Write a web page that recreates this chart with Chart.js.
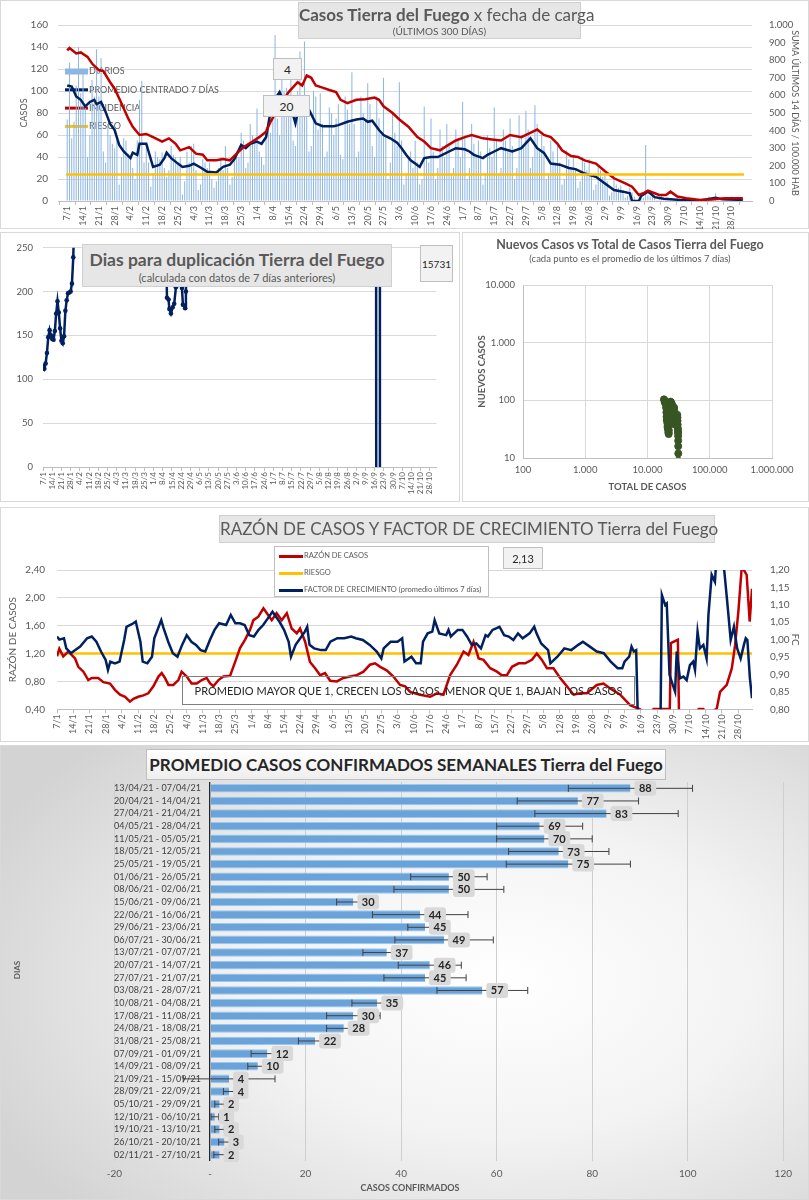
<!DOCTYPE html>
<html lang="es">
<head>
<meta charset="utf-8">
<title>Tierra del Fuego</title>
<script src="https://cdn.jsdelivr.net/npm/chart.js@4.4.1/dist/chart.umd.min.js"></script>
<style>
  body { margin: 0; width: 809px; height: 1200px; position: relative; overflow: hidden; background: #fff; font-family: Lato, 'Open Sans', sans-serif; color: #595959; }
  .panel { position: absolute; background: #fff; box-shadow: inset 0 0 0 1px #d9d9d9; }
  .panel canvas { position: absolute; left: 0; top: 0; }
  .box { position: absolute; box-sizing: border-box; text-align: center; white-space: nowrap; }
  .gray { background: #e7e6e6; border: 1px solid #cfcfcf; }
  .tag { background: #f2f2f2; border: 1px solid #bfbfbf; color: #262626; display: flex; align-items: center; justify-content: center; }
  .leg { position: absolute; left: 4px; font-size: 7.5px; line-height: 9px; color: #595959; }
  .leg i { display: inline-block; width: 24px; height: 3px; vertical-align: middle; margin-right: 1px; }
</style>
</head>
<body>

<div class="panel" style="left:0;top:0;width:809px;height:229px">
  <canvas id="casos" width="809" height="229"></canvas>
  <div class="box gray" style="left:298px;top:2px;width:283px;height:37px">
    <div style="font-size:17px;line-height:21px;margin-top:1px"><b>Casos Tierra del Fuego</b> x fecha de carga</div>
    <div style="font-size:10px;line-height:12px">(ÚLTIMOS 300 DÍAS)</div>
  </div>
  <div class="box tag" style="left:273px;top:58px;width:29px;height:22px;font-size:12px">4</div>
  <div class="box tag" style="left:263px;top:95px;width:47px;height:22px;font-size:12px">20</div>
</div>

<div class="panel" style="left:0;top:232px;width:460px;height:270px">
  <canvas id="duplicacion" width="460" height="270"></canvas>
  <div class="box gray" style="left:82px;top:12px;width:310px;height:43px">
    <div style="font-size:17.5px;font-weight:bold;line-height:23px;margin-top:3px">Dias para duplicación Tierra del Fuego</div>
    <div style="font-size:11px;line-height:14px">(calculada con datos de 7 días anteriores)</div>
  </div>
  <div class="box tag" style="left:420px;top:13px;width:33px;height:37px;font-size:10px">15731</div>
</div>

<div class="panel" style="left:462px;top:232px;width:347px;height:270px">
  <canvas id="nuevos" width="347" height="270"></canvas>
  <div class="box" style="left:0;top:5px;width:336px;font-size:12.5px;font-weight:bold;line-height:16px">Nuevos Casos vs Total de Casos Tierra del Fuego</div>
  <div class="box" style="left:0;top:21px;width:336px;font-size:9.5px;line-height:12px">(cada punto es el promedio de los últimos 7 días)</div>
</div>

<div class="panel" style="left:0;top:507px;width:809px;height:235px">
  <canvas id="razon" width="809" height="235"></canvas>
  <div class="box gray" style="left:219px;top:8px;width:496px;height:28px;font-size:17px;line-height:26px">RAZÓN DE CASOS Y FACTOR DE CRECIMIENTO Tierra del Fuego</div>
  <div class="box" style="left:274px;top:39px;width:215px;height:51px;background:#fff;border:1px solid #bfbfbf;text-align:left">
    <div class="leg" style="top:4px"><i style="background:#C00000"></i>RAZÓN DE CASOS</div>
    <div class="leg" style="top:21px"><i style="background:#FFC000"></i>RIESGO</div>
    <div class="leg" style="top:38px"><i style="background:#002060"></i>FACTOR DE CRECIMIENTO (promedio últimos 7 días)</div>
  </div>
  <div class="box tag" style="left:503px;top:40px;width:40px;height:22px;font-size:11px">2,13</div>
  <div class="box" style="left:182px;top:169px;width:453px;height:29px;border:1px solid #7f7f7f;font-size:11px;line-height:27px;color:#262626">PROMEDIO MAYOR QUE 1, CRECEN LOS CASOS, MENOR QUE 1, BAJAN LOS CASOS</div>
</div>

<div class="panel" style="left:0;top:745px;width:809px;height:455px;background:radial-gradient(ellipse 70% 75% at 62% 52%, #ffffff 0%, #f3f3f3 45%, #d3d3d3 100%)">
  <canvas id="semanal" width="809" height="455"></canvas>
  <div class="box" style="left:146px;top:4px;width:520px;height:31px;border:1px solid #bfbfbf;background:linear-gradient(#ffffff,#eeeeee);font-size:17px;font-weight:bold;line-height:29px;color:#262626">PROMEDIO CASOS CONFIRMADOS SEMANALES Tierra del Fuego</div>
  <div class="box" style="left:-3px;top:220px;width:40px;height:10px;font-size:8px;font-weight:bold;line-height:10px;transform:rotate(-90deg)">DIAS</div>
  <div class="box" style="left:310px;top:437px;width:200px;height:12px;font-size:9px;font-weight:bold;line-height:12px">CASOS CONFIRMADOS</div>
</div>

<script>
// ---- data ----
const tickLabels = ['7/1','14/1','21/1','28/1','4/2','11/2','18/2','25/2','4/3','11/3','18/3','25/3','1/4','8/4','15/4','22/4','29/4','6/5','13/5','20/5','27/5','3/6','10/6','17/6','24/6','1/7','8/7','15/7','22/7','29/7','5/8','12/8','19/8','26/8','2/9','9/9','16/9','23/9','30/9','7/10','14/10','21/10','28/10'];

// daily cases, day 0 = 7/1
const dailyCases = [
  74,126,57,72,105,140,98, 120,85,40,60,110,95,138, 95,130,45,35,70,60,52, 48,55,15,40,57,55,43,
  40,30,20,55,92,109,35, 48,35,13,25,45,40,38, 44,30,22,28,50,42,40, 35,40,6,18,45,35,50,
  52,28,10,15,38,35,30, 35,20,12,18,30,40,28, 50,30,15,22,38,45,40, 62,55,30,35,70,60,52,
  84,45,40,33,67,75,62, 80,151,75,60,125,100,103, 80,110,55,50,100,136,88, 145,90,45,50,100,95,65,
  98,70,40,45,85,80,60, 75,88,42,38,95,83,70, 117,70,40,45,95,80,73, 107,88,50,40,95,75,60,
  112,60,20,35,80,62,50, 108,55,15,25,40,45,30, 55,35,15,20,86,40,35, 75,45,20,30,65,50,40,
  70,50,25,30,65,55,40, 90,60,20,30,70,52,40, 55,45,15,25,60,48,40, 85,55,25,30,65,55,45,
  75,50,20,30,78,60,50, 82,65,30,40,87,70,48, 60,50,20,25,55,45,35, 51,35,15,20,46,38,30,
  42,30,12,18,40,35,28, 38,25,10,15,32,28,22, 25,18,5,8,20,15,12, 14,10,3,5,12,8,4,
  0,0,2,3,51,5,4, 6,4,1,2,5,3,2, 3,2,0,1,3,2,1, 2,1,0,1,3,2,1,
  2,1,0,1,4,3,2, 7,2,1,0,3,2,2, 4,2,1,1,3,2
];

const avgDays = [0,2,4,6,8,10,12,13,15,17,19,21,23,25,28,29,31,32,35,36,38,41,43,44,46,49,51,54,56,59,62,66,69,72,74,77,79,81,84,86,88,90,92,94,96,98,100,101,102,104,106,107,110,113,118,120,124,128,131,133,135,138,140,143,146,148,150,152,154,156,158,161,164,166,169,172,176,178,180,184,186,189,192,197,201,205,208,211,214,218,222,225,229,234,238,242,246,249,250,253,254,257,258,260,264,271,280,287,290,299];
const avgValues = [105,104,95,92,86,90,92,88,90,81,70,64.5,51,45,39,44,42,52,52,45,31,33,39,44,39,34,31,32,34,30.5,26.6,26,31,33,38,51,48,52,54,52,58,81,93,99,90,86,78,70.6,80,89,86,83,70.6,68,68,69,72,74,75,72,73,64.5,60,57,53,48,42,37,34,31,39,40,40,42,45,48,47,45,42,39,42,45,48,45,48,57,48,43.7,34,33,30,29,25,22,16,10,8.5,7,0,0,4.5,8.5,7,3.5,2,1,0.5,3,1.5,1];

const incDays = [0,1,4,6,9,11,14,16,19,21,24,27,29,32,35,38,42,45,48,50,54,57,60,62,66,69,72,75,78,82,85,88,90,93,98,102,104,106,108,110,113,116,119,121,124,128,132,136,138,140,144,147,151,155,158,161,165,168,172,176,179,184,188,192,196,201,204,208,211,214,217,219,223,226,229,234,238,242,247,250,253,255,257,260,262,265,267,270,274,280,285,291,299];
const incValues = [856,869,838,844,819,781,744,738,675,638,556,469,422,375,381,363,338,356,325,288,306,269,263,231,231,238,231,269,306,338,363,394,450,519,619,675,656,713,700,656,644,631,619,575,556,575,578,588,575,538,500,463,422,363,338,300,288,313,344,363,375,356,350,344,375,363,381,406,375,363,325,288,256,250,231,213,169,129,100,81,34,44,59,44,34,34,53,25,16,6,9,16,16];
const riesgoIncidencia = 150;

const dupDays = [0,1,2,3,4,5,6,7,8,9,10,11,12,13,14,15,16,17,18,19,20,21,22,23,24,93,94.2,95.4,96,97.2,98.5,99.7,101,102,104.6,105.6,106.3,108,108.6,109.6,253,253.4,255.6,256];
const dupValues = [115,112,118,130,148,156,150,146,145,155,175,189,176,158,144,141,149,178,190,198,199,200,209,239,300,300,193,191,180,175,182,186,205,300,300,204,185,181,200,300,600,-600,-600,15731];

const scatterTotal = [18400,18700,19000,19300,19600,19850,20100,20250,20400,20600,20750,20900,21000,21100,21250,21400,21500,21600,21700,21800,21900,22000,22150,22300,22500,22700,22900,23200,23500,23800,24100,24400,24700,24950,25200,25450,25700,25950,26200,26450,26700,26900,27100,27250,27400,27550,27700,27850,28000,28150,28350,28550,28700,28850,29000,29200,29350,29500,29700,29900,30100,30250,30400,30550,30650,30750,30850,30950,31050,31100,31150,31200,31230,31260,31300,31320,31340,31360,31380];
const scatterNew = [104,100,92,90,88,75,62,52,45,47,50,40,34,36,37,33,32,30,28,27,26,30,36,45,52,55,57,75,95,92,88,87,85,78,69,68,70,72,73,74,75,66,58,50,45,40,38,42,46,47,48,49,50,44,40,46,50,49,47,52,56,50,44,38,33,31,29,27,24,20,16,12,9,4,5,2,2,3,2];
const totalTicks = [100,1000,10000,100000,1000000];
const newTicks = [10,100,1000,10000];

const razonDays = [0,1,2.7,4.9,6.3,7.8,9.2,11.4,13.5,15,17.8,20,22.9,25,27.2,29.4,31.5,33,35.1,37.3,39.4,41.6,43.8,45.2,46.6,48.1,50.2,52.4,53.8,56,58.1,60.3,62.5,64.6,66.1,67.5,69.7,71.8,74.7,76.9,79,81.2,83.3,84.8,86.9,89.1,91.2,92.7,94.8,97,99.2,101.3,103.5,104.9,107.1,109.2,111.4,113.6,115.7,117.9,120.8,123.6,126.5,129.4,132.3,135.1,137.3,139.5,142.3,145.2,148.1,150.3,152.4,156.7,161.1,164,166.8,169.7,172.6,175.5,177.6,179.8,182,184.1,187,189.9,192,194.2,196.4,199.3,202.1,205,207.1,209.3,211.5,214.3,217.2,220.1,223,225.8,228.7,233,235.9,238.8,243.1,247.4,251.7,253,256,257.5,263.5,264.5,265,268,268.5,276,277,279,280,284.8,286.2,289.1,291.3,292.7,294.1,295.6,297.7,299,300];
const razonValues = [1.16,1.27,1.16,1.23,1.18,1.13,1.01,0.94,0.82,0.85,0.85,0.79,0.77,0.68,0.61,0.58,0.51,0.55,0.58,0.60,0.63,0.73,0.87,0.92,0.85,0.75,0.75,0.82,0.94,0.87,0.77,0.77,0.82,0.85,0.77,0.73,0.82,0.87,0.88,1.08,1.28,1.40,1.54,1.68,1.73,1.85,1.75,1.68,1.78,1.68,1.78,1.56,1.49,1.56,1.37,1.08,0.99,0.89,0.92,0.81,0.80,0.85,0.87,0.89,0.94,1.04,1.06,1.01,0.96,0.87,0.75,0.73,0.65,0.61,0.58,0.63,0.61,0.89,1.04,1.23,1.18,1.37,1.13,1.11,0.99,0.94,0.89,0.89,1.01,1.06,1.06,1.11,1.20,1.11,0.99,0.99,0.85,0.73,0.61,0.63,0.63,0.75,0.77,0.70,0.61,0.46,0.40,0.36,0.30,0.405,0.405,0.40,1.35,1.40,0.30,0.30,0.405,0.405,0.30,0.41,0.65,0.75,0.99,1.32,1.80,2.45,2.33,1.66,2.13];
const fcDays = [0,1,3,4,6,7,10,13,15,17,19,21,22,23,25,27,29,30,33,34,36,37,39,41,42,45,46,48,50,52,54,56,58,60,62,64,66,68,70,73,75,77,79,81,83,85,87,89,91,93,96,98,100,101,103,105,107,108,109,111,114,116,118,121,124,127,129,132,135,138,140,141,144,147,149,150,153,155,157,158,160,162,163,165,168,169,170,173,175,177,179,181,183,185,186,188,191,193,195,197,199,201,204,206,207,209,212,213,216,219,222,225,227,230,233,236,239,242,244,245,247,248,249,250,251,260.4,261.1,262.5,263.2,264.4,265.8,266.8,267.5,268.9,270.4,271.8,273.2,274.6,275.4,276.5,277.5,279,280.4,281.2,282.6,284,284.8,287,288,289.3,290.8,292.2,293.6,295.1,296.5,297.3,298,299.1,300];
const fcValues = [1.009,1.0,1.004,0.975,0.961,0.966,0.98,1.004,1.009,0.994,0.966,0.942,0.913,0.937,0.932,0.937,0.999,1.037,1.047,1.052,0.994,0.937,0.932,0.951,1.004,1.056,1.033,0.994,0.961,0.951,0.985,1.013,0.994,0.985,0.970,0.966,0.999,1.028,1.047,1.042,1.071,1.047,1.047,1.042,1.013,1.009,1.028,1.042,1.061,1.080,1.052,1.028,0.994,0.951,0.985,1.004,1.023,1.037,0.985,0.975,0.970,0.970,0.994,1.004,1.004,1.009,1.004,0.999,0.985,0.966,0.946,0.975,0.994,0.994,1.004,0.937,0.951,0.932,0.932,0.994,1.018,1.023,1.056,1.018,1.013,1.028,1.009,1.028,1.028,1.009,0.985,0.989,0.975,1.013,1.009,1.028,1.037,1.013,1.009,0.999,1.018,1.004,1.018,1.037,1.018,0.989,0.970,0.932,0.951,0.975,0.970,0.985,0.994,0.980,0.966,0.961,0.937,0.918,0.918,0.937,0.951,0.980,0.966,0.970,0.70,0.70,1.128,1.10,1.104,0.899,0.870,0.851,0.966,0.889,0.894,0.884,0.927,0.937,0.913,1.023,0.975,0.985,0.946,1.071,1.186,1.166,1.25,1.30,1.20,1.109,0.999,1.037,0.975,0.946,0.985,1.004,0.999,0.889,0.832];
const riesgoRazon = 1.2;

const weekLabels = ['13/04/21 - 07/04/21','20/04/21 - 14/04/21','27/04/21 - 21/04/21','04/05/21 - 28/04/21','11/05/21 - 05/05/21','18/05/21 - 12/05/21','25/05/21 - 19/05/21','01/06/21 - 26/05/21','08/06/21 - 02/06/21','15/06/21 - 09/06/21','22/06/21 - 16/06/21','29/06/21 - 23/06/21','06/07/21 - 30/06/21','13/07/21 - 07/07/21','20/07/21 - 14/07/21','27/07/21 - 21/07/21','03/08/21 - 28/07/21','10/08/21 - 04/08/21','17/08/21 - 11/08/21','24/08/21 - 18/08/21','31/08/21 - 25/08/21','07/09/21 - 01/09/21','14/09/21 - 08/09/21','21/09/21 - 15/09/21','28/09/21 - 22/09/21','05/10/21 - 29/09/21','12/10/21 - 06/10/21','19/10/21 - 13/10/21','26/10/21 - 20/10/21','02/11/21 - 27/10/21'];
const weekAvg = [88,77,83,69,70,73,75,50,50,30,44,45,49,37,46,45,57,35,30,28,22,12,10,4,4,2,1,2,3,2];
const weekErr = [13,12.7,15,9,10,10.5,13,8,11.5,3.5,10,3.6,10.3,5,6.6,8.6,9.5,5.3,5.6,3.6,3.5,3.4,2.1,9.6,1.2,1,0.8,1,1.2,1.2];

// ---- helpers ----
Chart.defaults.font.family = 'Lato, "Open Sans", sans-serif';
Chart.defaults.color = '#595959';
Chart.defaults.animation = false;
Chart.defaults.plugins.legend.display = false;
Chart.defaults.plugins.tooltip.enabled = false;

const pts = (xs, ys) => xs.map((x, i) => ({ x: x, y: ys[i] }));
const thousands = v => String(v).replace(/\B(?=(\d{3})+(?!\d))/g, '.');
const comma = d => v => v.toFixed(d).replace('.', ',');
const weekTicks = ax => { ax.ticks = tickLabels.map((_, i) => ({ value: i * 7 })); };
const weekLabel = v => tickLabels[Math.round(v / 7)];
const fixW = w => s => { s.width = w; };
const fixH = h => s => { s.height = h; };
const dateAxis = (min, max, h, size) => ({
  type: 'linear', min: min, max: max, afterBuildTicks: weekTicks, afterFit: fixH(h),
  ticks: { callback: weekLabel, autoSkip: false, minRotation: 90, maxRotation: 90, font: { size: size }, padding: 1 },
  grid: { display: true, drawOnChartArea: false, tickLength: 4, color: '#bfbfbf' },
  border: { color: '#bfbfbf' }
});

// legend drawn inside the plot, under the lines
const insideLegend = {
  id: 'insideLegend',
  beforeDatasetsDraw(chart, args, opts) {
    const ctx = chart.ctx;
    ctx.save();
    ctx.font = '9px Lato';
    ctx.textBaseline = 'middle';
    chart.data.datasets.forEach((ds, i) => {
      const y = opts.y + i * opts.rowH;
      const isBar = ds.type === 'bar';
      const h = isBar ? 6 : 3;
      ctx.fillStyle = isBar ? ds.backgroundColor : ds.borderColor;
      ctx.fillRect(opts.x, y - h / 2, opts.swatch, h);
      ctx.fillStyle = '#595959';
      ctx.fillText(ds.label, opts.x + opts.swatch + 1, y);
    });
    ctx.restore();
  }
};

// error bars + value tags for the weekly bars
const errorBars = {
  id: 'errorBars',
  afterDatasetsDraw(chart) {
    const ctx = chart.ctx, xs = chart.scales.x;
    chart.data.datasets.forEach((ds, di) => {
      if (!ds.errors) return;
      const meta = chart.getDatasetMeta(di);
      ctx.save();
      ctx.strokeStyle = '#404040';
      ctx.lineWidth = 1;
      meta.data.forEach((bar, i) => {
        const v = ds.data[i], e = ds.errors[i];
        const x1 = xs.getPixelForValue(v - e), x2 = xs.getPixelForValue(v + e);
        ctx.beginPath();
        ctx.moveTo(x1, bar.y); ctx.lineTo(x2, bar.y);
        ctx.moveTo(x1, bar.y - 3.5); ctx.lineTo(x1, bar.y + 3.5);
        ctx.moveTo(x2, bar.y - 3.5); ctx.lineTo(x2, bar.y + 3.5);
        ctx.stroke();
      });
      ctx.font = 'bold 11px Lato';
      ctx.textAlign = 'center';
      ctx.textBaseline = 'middle';
      meta.data.forEach((bar, i) => {
        const txt = String(ds.data[i]);
        const w = ctx.measureText(txt).width + 9;
        const x = bar.x + 4;
        ctx.fillStyle = '#d9d9d9';
        ctx.beginPath();
        if (ctx.roundRect) ctx.roundRect(x, bar.y - 7.5, w, 15, 3); else ctx.rect(x, bar.y - 7.5, w, 15);
        ctx.fill();
        ctx.fillStyle = '#262626';
        ctx.fillText(txt, x + w / 2, bar.y + 0.5);
      });
      ctx.restore();
    });
  }
};

// 1. casos diarios
new Chart(document.getElementById('casos'), {
  data: {
    datasets: [
      { type: 'bar', label: 'DIARIOS', data: dailyCases.map((v, i) => ({ x: i, y: v })), backgroundColor: '#8DB6E3', barPercentage: 0.45, categoryPercentage: 1, yAxisID: 'y', order: 4 },
      { type: 'line', label: 'PROMEDIO CENTRADO 7 DÍAS', data: pts(avgDays, avgValues), borderColor: '#002060', borderWidth: 2.5, pointRadius: 0, yAxisID: 'y', order: 3 },
      { type: 'line', label: 'INCIDENCIA', data: pts(incDays, incValues), borderColor: '#C00000', borderWidth: 2.5, pointRadius: 0, yAxisID: 'y2', order: 2 },
      { type: 'line', label: 'RIESGO', data: [{ x: -0.5, y: riesgoIncidencia }, { x: 299.5, y: riesgoIncidencia }], borderColor: '#FFC000', borderWidth: 2.5, pointRadius: 0, yAxisID: 'y2', order: 1 }
    ]
  },
  options: {
    responsive: false,
    layout: { padding: { top: 25, left: 0, right: 0, bottom: 0 } },
    scales: {
      x: dateAxis(-0.5, 299.5, 28, 9),
      y: { position: 'left', min: 0, max: 160, afterFit: fixW(58),
        ticks: { stepSize: 20, font: { size: 10 }, padding: 10 },
        grid: { color: '#d9d9d9', drawTicks: false }, border: { display: false },
        title: { display: true, text: 'CASOS', font: { size: 9 }, padding: { top: 19, bottom: 0 } } },
      y2: { position: 'right', min: 0, max: 1000, afterFit: fixW(57),
        ticks: { stepSize: 100, callback: thousands, font: { size: 9.5 }, padding: 9 },
        grid: { display: false }, border: { display: false },
        title: { display: true, text: 'SUMA ÚLTIMOS 14 DÍAS / 100.000 HAB', font: { size: 9 }, padding: { top: 9, bottom: 0 } } }
    },
    plugins: { insideLegend: { x: 65, y: 71.5, rowH: 18.3, swatch: 23 } }
  },
  plugins: [insideLegend]
});

// 2. dias para duplicacion
new Chart(document.getElementById('duplicacion'), {
  type: 'line',
  data: { datasets: [{ label: 'Días para duplicación', data: pts(dupDays, dupValues), borderColor: '#002060', backgroundColor: '#002060', borderWidth: 2.5, pointRadius: 2.3, pointBorderWidth: 0 }] },
  options: {
    responsive: false,
    layout: { padding: { top: 15, right: 23.5, left: 0, bottom: 0 } },
    scales: {
      x: dateAxis(0, 299, 35, 8),
      y: { min: 0, max: 250, afterFit: fixW(43),
        ticks: { stepSize: 50, font: { size: 9.5 }, padding: 10 },
        grid: { color: '#d9d9d9', drawTicks: false }, border: { display: false } }
    }
  }
});

// 3. nuevos casos vs total (log-log)
new Chart(document.getElementById('nuevos'), {
  type: 'scatter',
  data: { datasets: [{ label: 'Nuevos casos', data: pts(scatterTotal, scatterNew), backgroundColor: '#375623', borderColor: '#375623', pointRadius: 3.5 }] },
  options: {
    responsive: false,
    layout: { padding: { top: 53, right: 37, left: 0, bottom: 0 } },
    scales: {
      x: { type: 'logarithmic', min: 100, max: 1000000, afterFit: fixH(44),
        afterBuildTicks: ax => { ax.ticks = totalTicks.map(v => ({ value: v })); },
        ticks: { callback: thousands, font: { size: 9.5 }, maxRotation: 0, padding: 6 },
        grid: { color: '#d9d9d9', drawTicks: false }, border: { color: '#bfbfbf' },
        title: { display: true, text: 'TOTAL DE CASOS', font: { size: 9.5, weight: 'bold' }, padding: { top: 0, bottom: 9 } } },
      y: { type: 'logarithmic', min: 10, max: 10000, afterFit: fixW(61),
        afterBuildTicks: ax => { ax.ticks = newTicks.map(v => ({ value: v })); },
        ticks: { callback: thousands, font: { size: 9.5 }, padding: 8 },
        grid: { color: '#d9d9d9', drawTicks: false }, border: { color: '#bfbfbf' },
        title: { display: true, text: 'NUEVOS CASOS', font: { size: 9.5, weight: 'bold' }, padding: { top: 14, bottom: 0 } } }
    }
  }
});

// 4. razon de casos y factor de crecimiento
new Chart(document.getElementById('razon'), {
  type: 'line',
  data: {
    datasets: [
      { label: 'RAZÓN DE CASOS', data: pts(razonDays, razonValues), borderColor: '#C00000', borderWidth: 2.5, pointRadius: 0, yAxisID: 'y', order: 2 },
      { label: 'RIESGO', data: [{ x: 0, y: riesgoRazon }, { x: 300, y: riesgoRazon }], borderColor: '#FFC000', borderWidth: 2.5, pointRadius: 0, yAxisID: 'y', order: 3 },
      { label: 'FACTOR DE CRECIMIENTO (promedio últimos 7 días)', data: pts(fcDays, fcValues), borderColor: '#002060', borderWidth: 2.5, pointRadius: 0, yAxisID: 'y2', order: 1 }
    ]
  },
  options: {
    responsive: false,
    layout: { padding: { top: 63, left: 0, right: 0, bottom: 0 } },
    scales: {
      x: dateAxis(0, 300, 32.7, 9),
      y: { position: 'left', min: 0.4, max: 2.4, afterFit: fixW(57),
        ticks: { stepSize: 0.2, callback: comma(2), font: { size: 10 }, padding: 12 },
        grid: { color: '#d9d9d9', drawTicks: false }, border: { display: false },
        title: { display: true, text: 'RAZÓN DE CASOS', font: { size: 10 }, padding: { top: 7, bottom: 0 } } },
      y2: { position: 'right', min: 0.8, max: 1.2, afterFit: fixW(57),
        ticks: { stepSize: 0.05, callback: comma(2), font: { size: 10 }, padding: 10 },
        grid: { display: false }, border: { display: false },
        title: { display: true, text: 'FC', font: { size: 10 }, padding: { top: 8, bottom: 0 } } }
    }
  }
});

// 5. promedio semanal (category labels sit just left of the zero line, like the original)
new Chart(document.getElementById('semanal'), {
  type: 'bar',
  data: {
    labels: weekLabels,
    datasets: [{ label: 'Promedio semanal', data: weekAvg, errors: weekErr, backgroundColor: '#6AA3D9', borderColor: '#9CC7EE', borderWidth: { top: 1, bottom: 1, left: 0, right: 0 }, barPercentage: 0.68, categoryPercentage: 1 }]
  },
  options: {
    indexAxis: 'y',
    responsive: false,
    layout: { padding: { left: 114.5, right: 25.7, top: 37, bottom: 0 } },
    scales: {
      x: { min: -20, max: 120, afterFit: fixH(39),
        ticks: { stepSize: 20, callback: v => (v === 0 ? '-' : v), font: { size: 10 }, padding: 7 },
        grid: { color: ctx => (ctx.tick && ctx.tick.value === 0 ? '#262626' : '#cfcfcf'), lineWidth: ctx => (ctx.tick && ctx.tick.value === 0 ? 1.3 : 1), drawTicks: false },
        border: { display: false } },
      y: { position: { x: -1.9 },
        ticks: { font: { size: 9 }, color: '#404040', autoSkip: false },
        grid: { display: false, drawTicks: false }, border: { display: false } }
    }
  },
  plugins: [errorBars]
});
</script>
</body>
</html>
